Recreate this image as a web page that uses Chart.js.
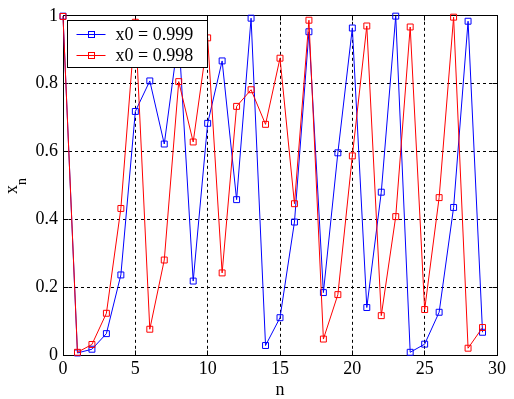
<!DOCTYPE html>
<html>
<head>
<meta charset="utf-8">
<script src="https://cdn.jsdelivr.net/npm/chart.js@4/dist/chart.umd.min.js"></script>
<style>
  html, body { margin: 0; padding: 0; background: #fff; }
</style>
</head>
<body>
<canvas id="chart" width="514" height="399"></canvas>
<script>
// Iteration index n and the two trajectories
const steps = [0, 1, 2, 3, 4, 5, 6, 7, 8, 9, 10, 11, 12, 13, 14, 15, 16, 17, 18, 19, 20, 21, 22, 23, 24, 25, 26, 27, 28, 29];
const seriesA = [0.999, 0.006, 0.017, 0.063, 0.236, 0.718, 0.808, 0.622, 0.942, 0.218,
                 0.683, 0.867, 0.458, 0.993, 0.028, 0.110, 0.392, 0.953, 0.184, 0.596,
                 0.964, 0.140, 0.480, 0.999, 0.008, 0.032, 0.126, 0.435, 0.984, 0.067];
const seriesB = [0.998, 0.008, 0.031, 0.123, 0.432, 0.981, 0.076, 0.280, 0.806, 0.628,
                 0.935, 0.242, 0.733, 0.782, 0.680, 0.875, 0.446, 0.987, 0.047, 0.178,
                 0.587, 0.970, 0.116, 0.408, 0.967, 0.134, 0.464, 0.996, 0.020, 0.081];
const labelA = 'x0 = 0.999';
const labelB = 'x0 = 0.998';
const xTicks = [0, 5, 10, 15, 20, 25, 30];
const yTicks = [0, 0.2, 0.4, 0.6, 0.8, 1];

const FONT = "'Liberation Serif', 'Times New Roman', serif";

function toPoints(values) {
    return steps.map((n, i) => ({ x: n, y: values[i] }));
}

function align(px) {
    return Math.round(px - 0.5) + 0.5;
}

// Box, inward ticks, axis titles and legend (MATLAB look)
const framePlugin = {
    id: 'frame',
    beforeDatasetsDraw(chart) {
        const { ctx, chartArea: a, scales: { x, y } } = chart;
        const l = align(a.left), r = align(a.right), t = align(a.top), b = align(a.bottom);
        ctx.save();
        ctx.strokeStyle = '#000';
        ctx.lineWidth = 1;
        ctx.setLineDash([]);
        ctx.strokeRect(l, t, r - l, b - t);
        ctx.beginPath();
        yTicks.forEach(v => {
            const py = align(y.getPixelForValue(v));
            ctx.moveTo(l, py); ctx.lineTo(l + 5, py);
            ctx.moveTo(r, py); ctx.lineTo(r - 5, py);
        });
        xTicks.forEach(v => {
            const px = align(x.getPixelForValue(v));
            ctx.moveTo(px, b); ctx.lineTo(px, b - 5);
            ctx.moveTo(px, t); ctx.lineTo(px, t + 5);
        });
        ctx.stroke();

        // axis titles
        ctx.fillStyle = '#000';
        ctx.font = '18px ' + FONT;
        ctx.textAlign = 'center';
        ctx.textBaseline = 'alphabetic';
        ctx.fillText('n', (a.left + a.right) / 2, 395);

        ctx.save();
        ctx.translate(17, 194);
        ctx.rotate(-Math.PI / 2);
        ctx.textAlign = 'left';
        ctx.font = '18px ' + FONT;
        ctx.fillText('x', 0, 0);
        const xw = ctx.measureText('x').width;
        ctx.font = '14px ' + FONT;
        ctx.fillText('n', xw, 9);
        ctx.restore();
        ctx.restore();
    },
    afterDraw(chart) {
        const { ctx, chartArea: a } = chart;
        const bx = align(a.left + 4), by = align(a.top + 5), bw = 140, bh = 47;
        ctx.save();
        ctx.setLineDash([]);
        ctx.fillStyle = '#fff';
        ctx.fillRect(bx, by, bw, bh);
        ctx.strokeStyle = '#000';
        ctx.lineWidth = 1;
        ctx.strokeRect(bx, by, bw, bh);
        chart.data.datasets.forEach((ds, i) => {
            const ry = Math.round(by + 13.5 + i * 20.5) + 0.5;
            ctx.strokeStyle = ds.borderColor;
            ctx.beginPath();
            ctx.moveTo(bx + 9, ry);
            ctx.lineTo(bx + 38, ry);
            ctx.stroke();
            ctx.strokeRect(bx + 21, ry - 3, 6, 6);
            ctx.fillStyle = '#000';
            ctx.font = '18px ' + FONT;
            ctx.textAlign = 'left';
            ctx.textBaseline = 'middle';
            ctx.fillText(ds.label, bx + 48, ry + 1);
        });
        ctx.restore();
    }
};

const gridColor = (edges) => (c) => (c.tick && edges.includes(c.tick.value)) ? 'rgba(0,0,0,0)' : '#000';

new Chart(document.getElementById('chart'), {
    type: 'line',
    data: {
        datasets: [{
            label: labelA,
            data: toPoints(seriesA),
            borderColor: '#0000ff',
            borderWidth: 1,
            pointStyle: 'rect',
            pointRadius: 4.2,
            pointBorderWidth: 1,
            pointBorderColor: '#0000ff',
            pointBackgroundColor: 'rgba(0,0,0,0)',
            tension: 0,
            clip: false,
            order: 1
        }, {
            label: labelB,
            data: toPoints(seriesB),
            borderColor: '#ff0000',
            borderWidth: 1,
            pointStyle: 'rect',
            pointRadius: 4.2,
            pointBorderWidth: 1,
            pointBorderColor: '#ff0000',
            pointBackgroundColor: 'rgba(0,0,0,0)',
            tension: 0,
            clip: false,
            order: 0
        }]
    },
    options: {
        responsive: false,
        animation: false,
        layout: { padding: { left: 0, top: 13, right: 17, bottom: 0 } },
        plugins: {
            legend: { display: false },
            tooltip: { enabled: false }
        },
        scales: {
            x: {
                type: 'linear',
                min: 0,
                max: 30,
                afterBuildTicks: s => { s.ticks = xTicks.map(v => ({ value: v })); },
                afterFit: s => { s.height = 44; },
                grid: { color: gridColor([0, 30]), drawTicks: false, lineWidth: 1 },
                border: { display: false, dash: [3, 3] },
                ticks: { color: '#000', padding: 3, font: { family: FONT, size: 18 } }
            },
            y: {
                type: 'linear',
                min: 0,
                max: 1,
                afterBuildTicks: s => { s.ticks = yTicks.map(v => ({ value: v })); },
                afterFit: s => { s.width = 63; },
                grid: { color: gridColor([0, 1]), drawTicks: false, lineWidth: 1 },
                border: { display: false, dash: [3, 3] },
                ticks: {
                    color: '#000',
                    padding: 5,
                    font: { family: FONT, size: 18 },
                    callback: v => String(Number(v.toFixed(1)))
                }
            }
        }
    },
    plugins: [framePlugin]
});
</script>
</body>
</html>
